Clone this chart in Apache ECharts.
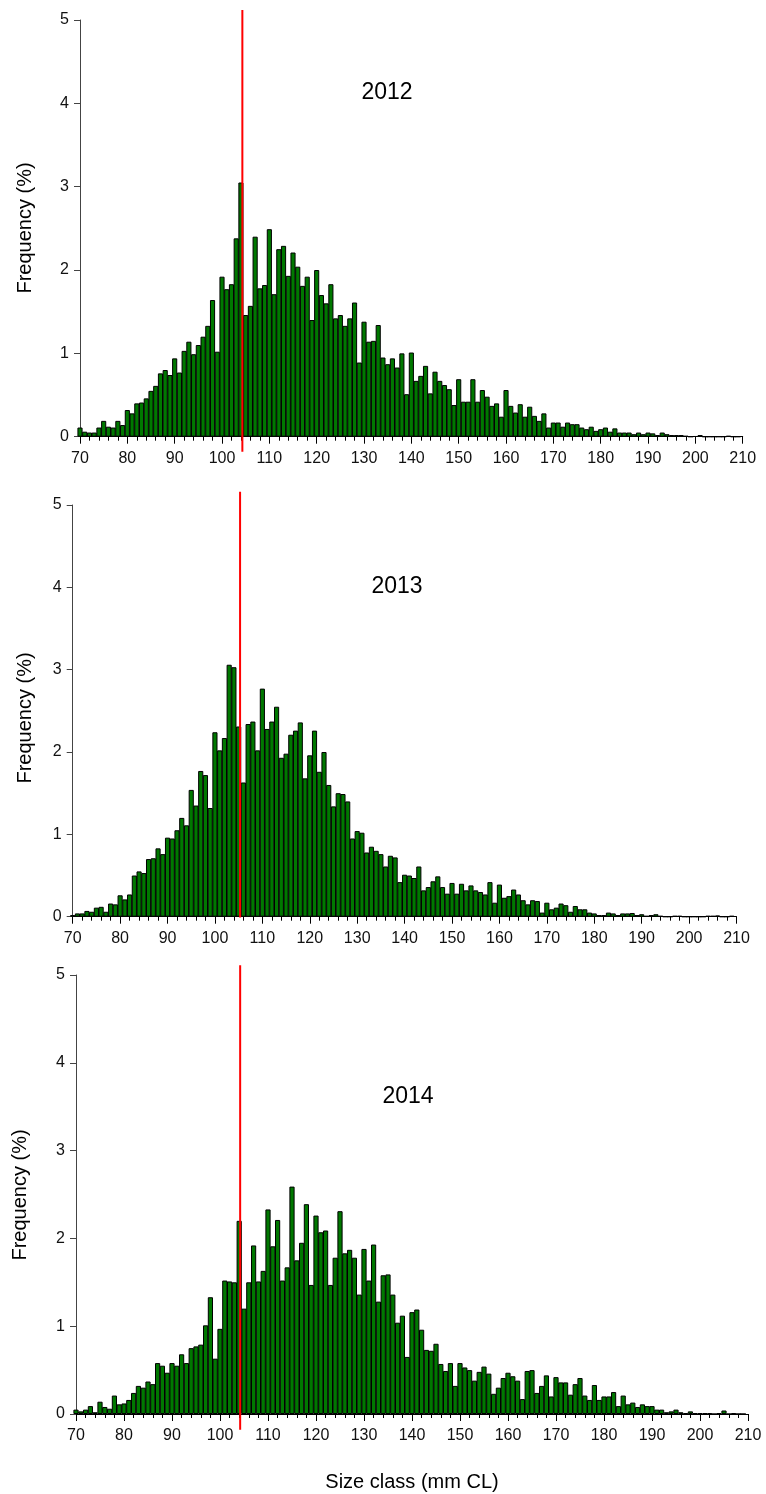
<!DOCTYPE html>
<html>
<head>
<meta charset="utf-8">
<style>
  html, body { margin: 0; padding: 0; background: #fff; }
  #chart { width: 766px; height: 1494px; }
</style>
</head>
<body>
<div id="chart"></div>
<script src="https://cdn.jsdelivr.net/npm/echarts@6/dist/echarts.min.js"></script>
<script>
// size classes, mm CL (one bar per 1 mm class)
var sizeClass = [];
for (var s = 70; s < 210; s++) sizeClass.push(s);

var years = ['2012', '2013', '2014'];

// frequency (%) per size class
var freq2012 = [
  0.11,0.06,0.05,0.05,0.11,0.19,0.12,0.11,0.19,0.14,
  0.32,0.28,0.40,0.41,0.46,0.55,0.61,0.76,0.80,0.74,
  0.94,0.77,1.03,1.14,0.99,1.10,1.20,1.33,1.64,1.02,
  1.92,1.77,1.83,2.38,3.05,1.46,1.57,2.40,1.78,1.82,
  2.49,1.71,2.25,2.29,1.93,2.21,2.04,1.81,1.92,1.40,
  2.00,1.70,1.60,1.83,1.42,1.46,1.33,1.42,1.61,0.89,
  1.38,1.14,1.15,1.34,0.95,0.87,0.94,0.83,1.00,0.51,
  1.01,0.67,0.73,0.85,0.52,0.78,0.67,0.62,0.57,0.38,
  0.69,0.42,0.42,0.69,0.42,0.56,0.48,0.37,0.40,0.24,
  0.56,0.37,0.29,0.39,0.24,0.36,0.25,0.19,0.28,0.11,
  0.17,0.17,0.12,0.17,0.15,0.15,0.11,0.09,0.12,0.07,
  0.09,0.11,0.06,0.10,0.05,0.05,0.05,0.03,0.05,0.03,
  0.05,0.04,0.02,0.05,0.03,0.02,0.02,0.02,0.01,0,
  0.005,0.02,0,0,0,0,0,0.01,0,0
];
var freq2013 = [
  0.02,0.04,0.04,0.07,0.06,0.11,0.12,0.06,0.16,0.15,
  0.26,0.21,0.27,0.50,0.55,0.53,0.70,0.71,0.83,0.76,
  0.96,0.95,1.05,1.20,1.11,1.54,1.35,1.77,1.72,1.32,
  2.24,2.02,2.17,3.06,3.03,2.31,1.63,2.34,2.37,2.02,
  2.77,2.28,2.37,2.55,1.93,1.98,2.21,2.26,2.36,1.68,
  1.96,2.26,1.76,2.00,1.60,1.34,1.50,1.49,1.40,0.95,
  1.04,1.02,0.78,0.85,0.80,0.76,0.61,0.74,0.72,0.42,
  0.51,0.50,0.47,0.61,0.32,0.36,0.43,0.49,0.36,0.28,
  0.41,0.28,0.40,0.32,0.38,0.32,0.30,0.27,0.42,0.17,
  0.39,0.23,0.25,0.33,0.27,0.20,0.15,0.20,0.19,0.05,
  0.17,0.09,0.11,0.16,0.14,0.06,0.13,0.09,0.09,0.05,
  0.04,0.02,0.02,0.05,0.04,0.02,0.04,0.04,0.045,0.02,
  0.03,0.01,0.02,0.03,0.01,0,0,0.01,0.01,0,
  0,0,0,0,0.01,0.01,0.015,0,0,0.01
];
var freq2014 = [
  0.05,0.03,0.05,0.09,0.02,0.14,0.08,0.06,0.21,0.11,
  0.12,0.16,0.24,0.32,0.30,0.37,0.34,0.58,0.55,0.47,
  0.58,0.55,0.68,0.58,0.75,0.77,0.79,1.01,1.33,0.63,
  0.97,1.52,1.51,1.50,2.20,1.20,1.50,1.92,1.51,1.63,
  2.33,1.91,2.21,1.52,1.67,2.59,1.75,1.95,2.39,1.47,
  2.26,2.07,2.09,1.47,1.78,2.31,1.83,1.87,1.78,1.36,
  1.88,1.52,1.93,1.28,1.58,1.59,1.36,1.04,1.12,0.65,
  1.16,1.19,0.96,0.73,0.72,0.80,0.57,0.49,0.58,0.32,
  0.58,0.53,0.50,0.38,0.48,0.54,0.46,0.23,0.30,0.41,
  0.47,0.43,0.38,0.17,0.49,0.50,0.24,0.32,0.44,0.20,
  0.42,0.36,0.36,0.22,0.34,0.41,0.21,0.16,0.33,0.16,
  0.20,0.20,0.25,0.09,0.21,0.11,0.13,0.08,0.11,0.09,
  0.09,0.05,0.05,0.02,0.03,0.05,0.02,0.01,0.03,0.01,
  0.01,0.01,0.01,0,0.01,0.04,0,0.01,0,0
];

// red reference line per year (mm CL)
var refLine = [104.3, 105.3, 104.2];

var xTicks = [70, 210, 10];   // min, max, step
var yTicks = [0, 5, 1];

var FONT = '"Liberation Sans", Arial, sans-serif';

// panel boxes in px
var panels = [
  { left: 80,   top: 20,  width: 662.7, height: 416.7, lineTop: 5.12, lineBot: -0.18, yearX: 387, yearY: 93,   titleX: 25, titleY: 228 },
  { left: 72.7, top: 505, width: 663.8, height: 411.7, lineTop: 5.16, lineBot: -0.01, yearX: 397, yearY: 587,  titleX: 25, titleY: 718 },
  { left: 76,   top: 975, width: 672,   height: 439,   lineTop: 5.11, lineBot: -0.18, yearX: 408, yearY: 1097, titleX: 20, titleY: 1195 }
];
var allFreq = [freq2012, freq2013, freq2014];

var grids = [], xAxes = [], yAxes = [], series = [], graphics = [];

panels.forEach(function (p, i) {
  grids.push({ left: p.left, top: p.top, width: p.width, height: p.height, containLabel: false });
  xAxes.push({
    type: 'value', gridIndex: i,
    min: xTicks[0], max: xTicks[1], interval: xTicks[2],
    axisLine: { show: true, onZero: false, lineStyle: { color: '#000', width: 1 } },
    axisTick: { show: true, length: 7, lineStyle: { color: '#000' } },
    minorTick: { show: true, splitNumber: 5, length: 4, lineStyle: { color: '#000' } },
    splitLine: { show: false },
    axisLabel: { color: '#111', fontSize: 16, fontFamily: FONT, margin: 14 }
  });
  yAxes.push({
    type: 'value', gridIndex: i,
    min: yTicks[0], max: yTicks[1], interval: yTicks[2],
    axisLine: { show: true, onZero: false, lineStyle: { color: '#444', width: 1 } },
    axisTick: { show: true, length: 6, lineStyle: { color: '#444' } },
    splitLine: { show: false },
    axisLabel: { color: '#111', fontSize: 16, fontFamily: FONT, margin: 11 }
  });
  series.push({
    type: 'bar', xAxisIndex: i, yAxisIndex: i,
    barWidth: p.width / (xTicks[1] - xTicks[0]) + 0.4,
    itemStyle: { color: '#007800', borderColor: '#000', borderWidth: 1 },
    data: sizeClass.map(function (c, k) { return [c, allFreq[i][k]]; }),
    animation: false
  });
  series.push({
    type: 'line', xAxisIndex: i, yAxisIndex: i,
    clip: false, symbol: 'none', z: 5,
    lineStyle: { color: '#ff0000', width: 2 },
    data: [[refLine[i], p.lineTop], [refLine[i], p.lineBot]],
    animation: false
  });
  graphics.push({
    type: 'text', x: p.yearX, y: p.yearY,
    style: { text: years[i], fontSize: 23, fontFamily: FONT, fill: '#000', textAlign: 'center', textVerticalAlign: 'middle' }
  });
  graphics.push({
    type: 'text', x: p.titleX, y: p.titleY, rotation: Math.PI / 2,
    style: { text: 'Frequency (%)', fontSize: 20, fontFamily: FONT, fill: '#000', textAlign: 'center', textVerticalAlign: 'middle' }
  });
});

graphics.push({
  type: 'text', x: 412, y: 1482,
  style: { text: 'Size class (mm CL)', fontSize: 20, fontFamily: FONT, fill: '#000', textAlign: 'center', textVerticalAlign: 'middle' }
});

var chart = echarts.init(document.getElementById('chart'), null, { renderer: 'canvas' });
chart.setOption({
  animation: false,
  backgroundColor: '#fff',
  grid: grids,
  xAxis: xAxes,
  yAxis: yAxes,
  series: series,
  graphic: graphics
});
</script>
</body>
</html>
